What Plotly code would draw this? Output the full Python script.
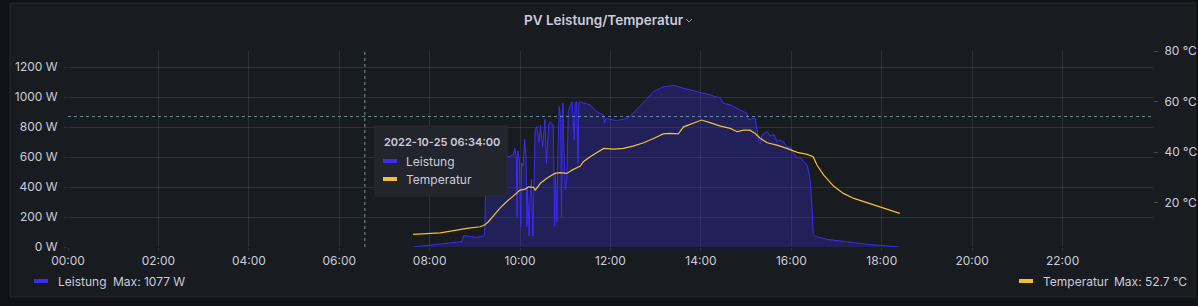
import plotly.graph_objects as go

DATE = "2022-10-25"

leistung_time = ["07:38","07:52","08:05","08:18","08:31","08:43","08:45","08:54","09:02","09:11",
    "09:13","09:14","09:20","09:27","09:33","09:42","09:47","09:51","09:53","09:55",
    "09:56","09:57","09:59","10:01","10:02","10:04","10:06","10:08","10:09","10:10",
    "10:12","10:13","10:15","10:17","10:18","10:20","10:22","10:25","10:27","10:30",
    "10:33","10:35","10:38","10:40","10:44","10:46","10:47","10:49","10:50","10:52",
    "10:54","10:55","10:56","10:57","10:58","11:00","11:02","11:04","11:06","11:09",
    "11:12","11:13","11:15","11:17","11:18","11:20","11:23","11:27","11:33","11:42",
    "11:51","11:52","11:54","12:08","12:22","12:28","12:42","12:57","13:10","13:24",
    "13:37","13:55","14:13","14:26","14:30","14:39","14:52","14:57","15:01","15:03",
    "15:12","15:17","15:19","15:21","15:28","15:32","15:37","15:41","15:45","15:50",
    "15:54","15:59","16:03","16:08","16:12","16:16","16:21","16:23","16:25","16:27",
    "16:29","16:32","16:38","16:47","17:05","17:23","17:41","17:58","18:12","18:23"]
leistung_w = [0,7,18,24,31,36,76,69,64,73,
    80,335,420,500,560,600,605,615,658,600,
    202,640,580,136,560,540,718,600,136,400,
    73,300,450,73,300,780,802,700,813,669,
    851,558,813,836,813,136,500,169,600,936,
    850,202,900,962,700,380,447,902,936,969,
    713,962,969,558,962,969,962,958,947,902,
    880,825,858,842,858,880,958,1035,1068,1077,
    1058,1035,1013,991,958,947,913,902,891,847,
    860,702,691,747,769,740,750,702,713,700,
    669,665,624,591,600,569,547,502,447,313,
    91,69,64,51,42,29,18,9,2,0]

temp_time = ["07:38","07:56","08:14","08:36","08:49","09:07","09:13","09:18","09:25","09:33",
    "09:42","09:53","10:00","10:07","10:11","10:18","10:20","10:27","10:35","10:46",
    "10:53","11:02","11:09","11:20","11:24","11:33","11:42","11:51","12:04","12:17",
    "12:30","12:44","12:57","13:10","13:19","13:30","13:37","13:46","14:01","14:13",
    "14:26","14:39","14:48","14:57","15:05","15:12","15:19","15:28","15:41","15:54",
    "16:08","16:21","16:29","16:34","16:43","16:56","17:09","17:23","17:36","17:49",
    "18:07","18:24"]
temp_c = [7.5,7.9,8.1,9.2,9.9,10.5,11.2,12.5,15.1,17.8,
    20.4,23.0,25.0,25.4,26.3,26.1,25.0,27.7,29.6,31.6,
    31.9,31.6,32.9,34.5,36.2,38.2,39.8,41.5,41.2,41.5,
    42.4,43.7,45.4,47.2,47.4,47.2,50.0,51.1,52.7,51.6,
    50.3,49.4,48.1,48.7,48.7,47.4,45.4,43.7,42.8,41.5,
    39.9,39.1,38.2,34.9,30.9,26.6,23.7,21.7,20.4,19.1,
    17.5,15.8]

x_ticks = ["00:00","02:00","04:00","06:00","08:00","10:00","12:00","14:00","16:00","18:00","20:00","22:00"]
w_ticks = [0, 200, 400, 600, 800, 1000, 1200]
c_ticks = [20, 40, 60, 80]

hover_time = "06:34:00"
hover_w = 870

assert len(leistung_time) == len(leistung_w)
assert len(temp_time) == len(temp_c)

BLUE = "#3a2df5"
YELLOW = "#f2c037"
TEXT = "#ccccdc"
GRID = "rgba(204,204,220,0.12)"
FONT = "Inter"

W, H = 1198, 306
L, R, T, B = 68, 45, 51, 59
PW, PH = W - L - R, H - T - B

def px(x):
    return (x - L) / PW

def py(y):
    return (H - B - y) / PH

fig = go.Figure()

fig.add_trace(go.Scatter(
    x=[f"{DATE} {t}" for t in leistung_time], y=leistung_w,
    mode="lines", line=dict(color=BLUE, width=1),
    fill="tozeroy", fillcolor="rgba(58,45,240,0.28)",
    name="Leistung", yaxis="y"))
fig.add_trace(go.Scatter(
    x=[f"{DATE} {t}" for t in temp_time], y=temp_c,
    mode="lines", line=dict(color=YELLOW, width=1.2),
    name="Temperatur", yaxis="y2"))

shapes = []
# panel
shapes.append(dict(type="rect", xref="paper", yref="paper",
                   x0=px(10), x1=px(1195), y0=py(297), y1=py(3),
                   fillcolor="#181b1f", line=dict(color="#25282e", width=1), layer="below"))
# crosshair
shapes.append(dict(type="line", xref="x", yref="paper",
                   x0=f"{DATE} {hover_time}", x1=f"{DATE} {hover_time}", y0=0, y1=1,
                   line=dict(color="rgba(150,190,200,0.75)", width=1, dash="3px,3px"), layer="above"))
shapes.append(dict(type="line", xref="paper", yref="y",
                   x0=0, x1=1, y0=hover_w, y1=hover_w,
                   line=dict(color="rgba(120,180,190,0.75)", width=1, dash="3px,3px"), layer="above"))
# tooltip box
shapes.append(dict(type="rect", xref="paper", yref="paper",
                   x0=px(375), x1=px(507), y0=py(196), y1=py(126),
                   fillcolor="#22252b", line=dict(color="#2a2d33", width=1), layer="above"))
shapes.append(dict(type="rect", xref="paper", yref="paper",
                   x0=px(383), x1=px(397), y0=py(163), y1=py(159),
                   fillcolor=BLUE, line=dict(width=0), layer="above"))
shapes.append(dict(type="rect", xref="paper", yref="paper",
                   x0=px(383), x1=px(397), y0=py(181), y1=py(177),
                   fillcolor=YELLOW, line=dict(width=0), layer="above"))
# legend bars
shapes.append(dict(type="rect", xref="paper", yref="paper",
                   x0=px(34), x1=px(48), y0=py(283), y1=py(279),
                   fillcolor=BLUE, line=dict(width=0), layer="above"))
shapes.append(dict(type="rect", xref="paper", yref="paper",
                   x0=px(1019), x1=px(1033), y0=py(283), y1=py(279),
                   fillcolor=YELLOW, line=dict(width=0), layer="above"))
# title chevron
shapes.append(dict(type="path", xref="paper", yref="paper",
                   path=f"M {px(686)} {py(19)} L {px(689)} {py(22)} L {px(692)} {py(19)}",
                   line=dict(color="#8e8e9e", width=1), layer="above"))

ann = []
def txt(x, y, s, size=12, color=TEXT, anchor="left", weight=400):
    ann.append(dict(xref="paper", yref="paper", x=px(x), y=py(y), text=s,
                    showarrow=False, xanchor=anchor, yanchor="middle",
                    font=dict(family=FONT, size=size, color=color, weight=weight)))

txt(604, 20, "PV Leistung/Temperatur", size=13.5, anchor="center", weight=600)
txt(382, 142, f"{DATE} {hover_time}", size=11, weight=600)
txt(404, 161, "Leistung")
txt(404, 179, "Temperatur")
txt(56, 281, "Leistung")
txt(111, 281, f"Max: {max(leistung_w):.0f} W")
txt(1041, 281, "Temperatur")
txt(1112, 281, f"Max: {max(temp_c):.1f} °C")

fig.update_layout(
    width=W, height=H,
    margin=dict(l=L, r=R, t=T, b=B, autoexpand=False),
    paper_bgcolor="#111217", plot_bgcolor="#181b1f",
    showlegend=False, hovermode=False,
    font=dict(family=FONT, size=12, color=TEXT),
    shapes=shapes, annotations=ann,
    xaxis=dict(type="date", range=[f"{DATE} 00:00", "2022-10-26 00:00"],
               tickvals=[f"{DATE} {t}" for t in x_ticks], ticktext=x_ticks,
               showgrid=True, gridcolor=GRID, gridwidth=1, zeroline=False,
               ticks="outside", ticklen=3, tickcolor=GRID, showline=False,
               automargin=False,
               tickfont=dict(family=FONT, size=12, color=TEXT)),
    yaxis=dict(range=[0, (H - B - T) / 0.15], tickvals=w_ticks,
               ticktext=[f"{v} W" for v in w_ticks],
               showgrid=True, gridcolor=GRID, gridwidth=1, zeroline=False,
               ticks="outside", ticklen=3, tickcolor=GRID, automargin=False,
               ticklabelstandoff=4,
               tickfont=dict(family=FONT, size=12, color=TEXT)),
    yaxis2=dict(overlaying="y", side="right", range=[2.5, 80],
                tickvals=c_ticks, ticktext=[f"{v} °C" for v in c_ticks],
                showgrid=False, zeroline=False, automargin=False,
                ticks="outside", ticklen=4, tickcolor="rgba(204,204,220,0.25)",
                ticklabelstandoff=4,
                tickfont=dict(family=FONT, size=12, color=TEXT)),
)

fig.write_html("out.html")
